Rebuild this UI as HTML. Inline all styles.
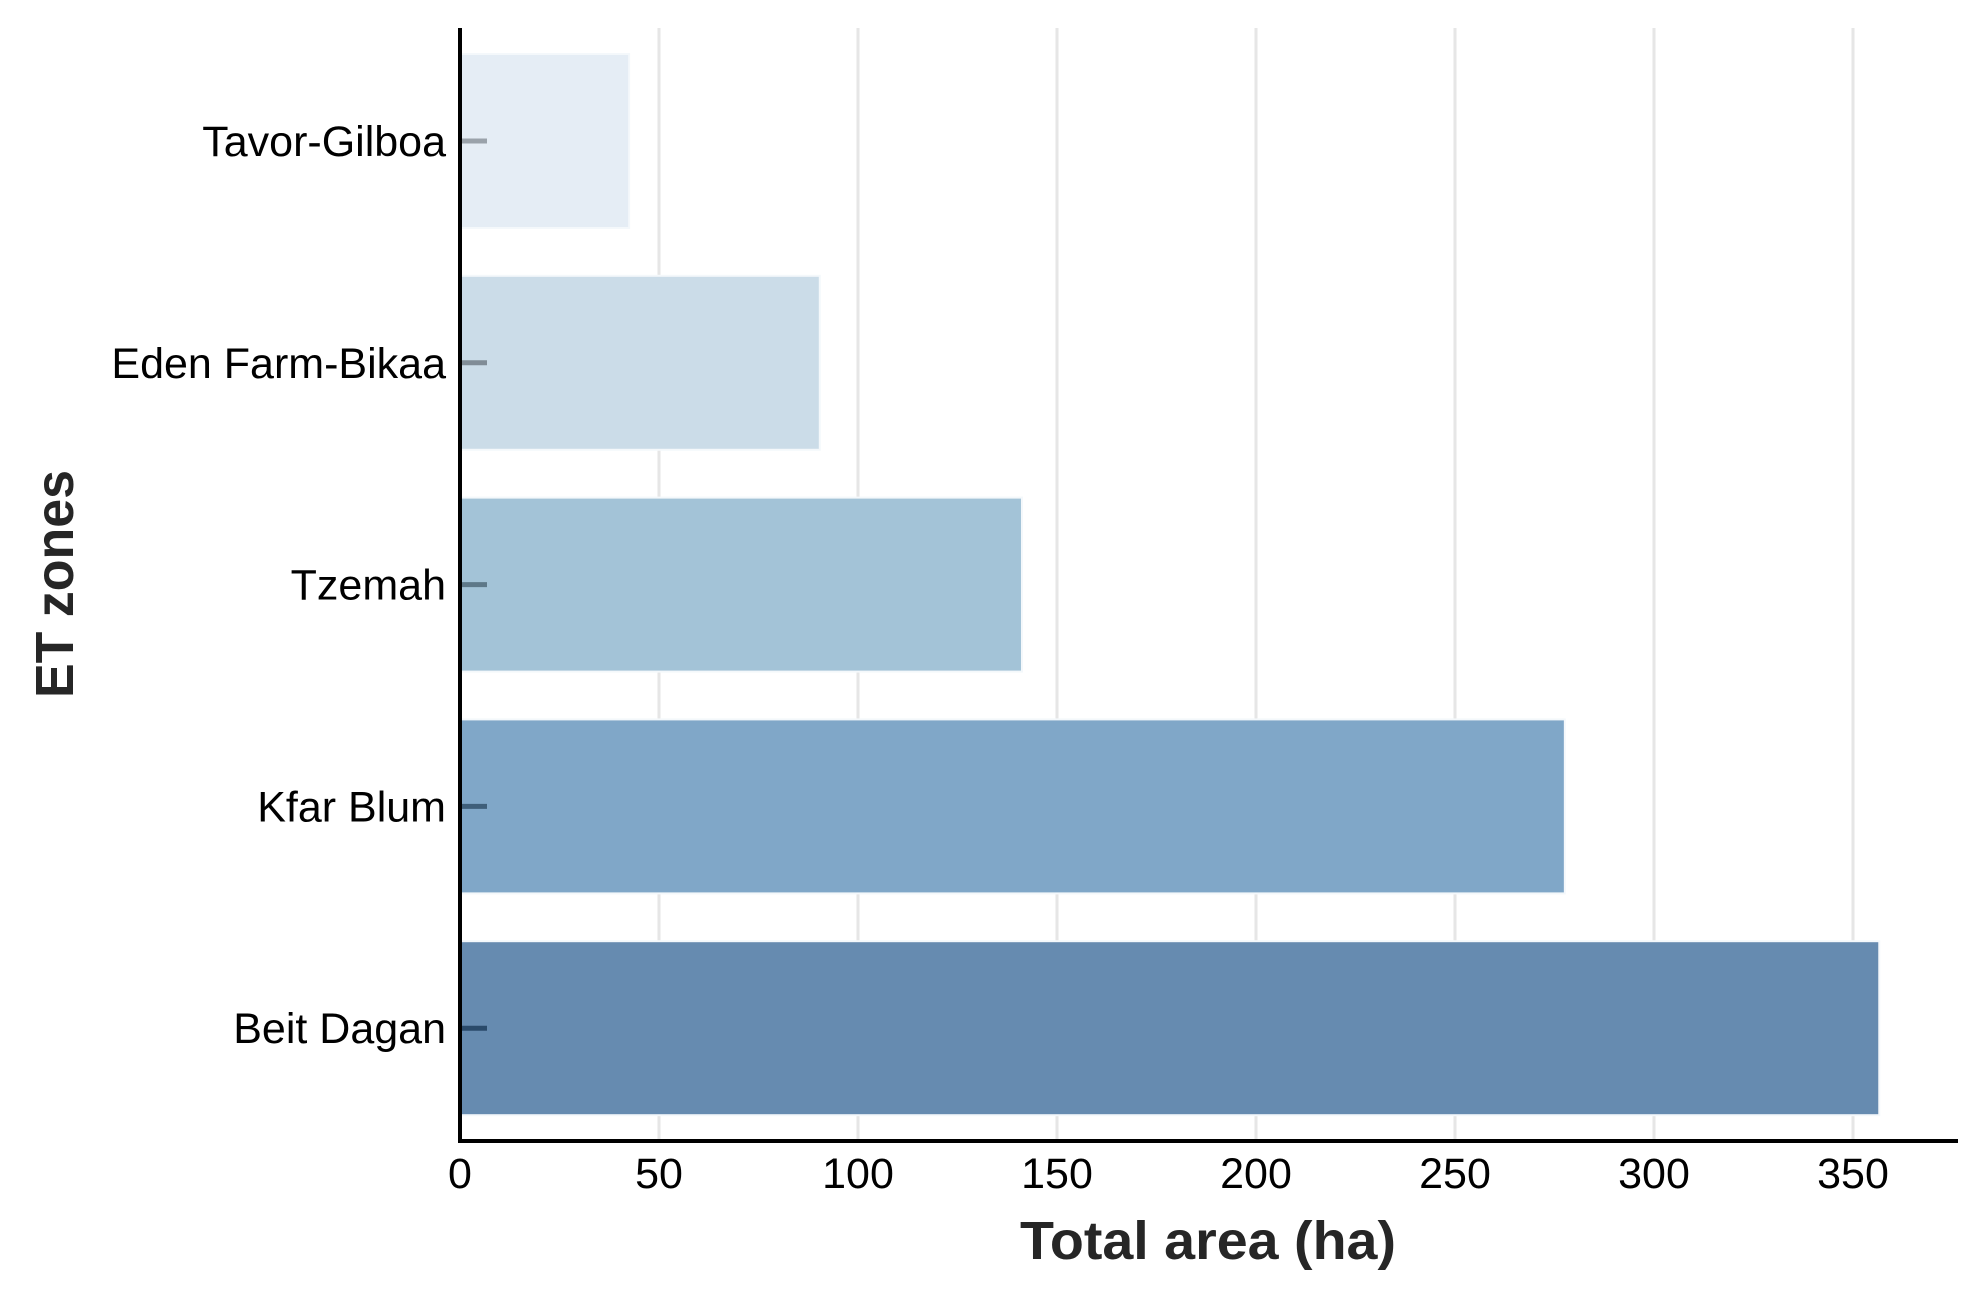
<!DOCTYPE html>
<html><head><meta charset="utf-8"><style>
html,body{margin:0;padding:0;background:#fff;}
svg{display:block;font-family:"Liberation Sans",sans-serif;}
</style></head><body>
<svg id="chart" width="1977" height="1298" viewBox="0 0 1977 1298">
<g id="grid"></g>
<g id="bars"></g>
<g id="yticks"></g>
<g id="xticks"></g>
<line x1="460" y1="28" x2="460" y2="1141" stroke="#000" stroke-width="4"/>
<line x1="458" y1="1141" x2="1958" y2="1141" stroke="#000" stroke-width="4"/>
<text x="1208" y="1259" text-anchor="middle" font-size="54" font-weight="bold" fill="#262626" textLength="376" lengthAdjust="spacingAndGlyphs">Total area (ha)</text>
<text transform="translate(73,584) rotate(-90)" text-anchor="middle" font-size="54" font-weight="bold" fill="#262626" textLength="228" lengthAdjust="spacingAndGlyphs">ET zones</text>
</svg>
<script>
const categories = ["Tavor-Gilboa","Eden Farm-Bikaa","Tzemah","Kfar Blum","Beit Dagan"];
const values = [42.5, 90.4, 141.2, 277.6, 356.6];
const xTicks = [0,50,100,150,200,250,300,350];
const colors = ["#e5edf5","#cbdce8","#a3c3d7","#80a7c8","#668bb0"];
const tickColors = ["#9aa2aa","#808c96","#5e7888","#3f5f7a","#2a4a6a"];
const NS="http://www.w3.org/2000/svg";
const X0=460, PX_PER=199.0/50;
function xs(v){return X0+v*PX_PER;}
const C0=141, STEP=221.8, BH=174;
function yc(i){return C0+i*STEP;}
function mk(tag,attrs,parent){const e=document.createElementNS(NS,tag);for(const k in attrs)e.setAttribute(k,attrs[k]);parent.appendChild(e);return e;}
const grid=document.getElementById('grid'), bars=document.getElementById('bars'), yt=document.getElementById('yticks'), xt=document.getElementById('xticks');
xTicks.forEach(t=>{
  if(t>0){
    const g=mk('line',{x1:xs(t),x2:xs(t),y1:28,y2:1139,stroke:'#e6e6e6','stroke-width':3},grid);
    
    
  }
  const l=mk('text',{x:xs(t),y:1188,'text-anchor':'middle','font-size':43,fill:'#000'},xt);
  l.textContent=t;
  
  
});
categories.forEach((c,i)=>{
  const r=mk('rect',{x:X0,y:yc(i)-BH/2,width:xs(values[i])-X0,height:BH,fill:colors[i],stroke:'#f4f8fb','stroke-width':2},bars);
  
  
  const tk=mk('line',{x1:X0,x2:X0+27,y1:yc(i),y2:yc(i),stroke:tickColors[i],'stroke-width':5},yt);
  
  
  const t=mk('text',{x:446,y:yc(i)+15,'text-anchor':'end','font-size':43,fill:'#000'},yt);
  t.textContent=c;
  
  
});
</script>
</body></html>
